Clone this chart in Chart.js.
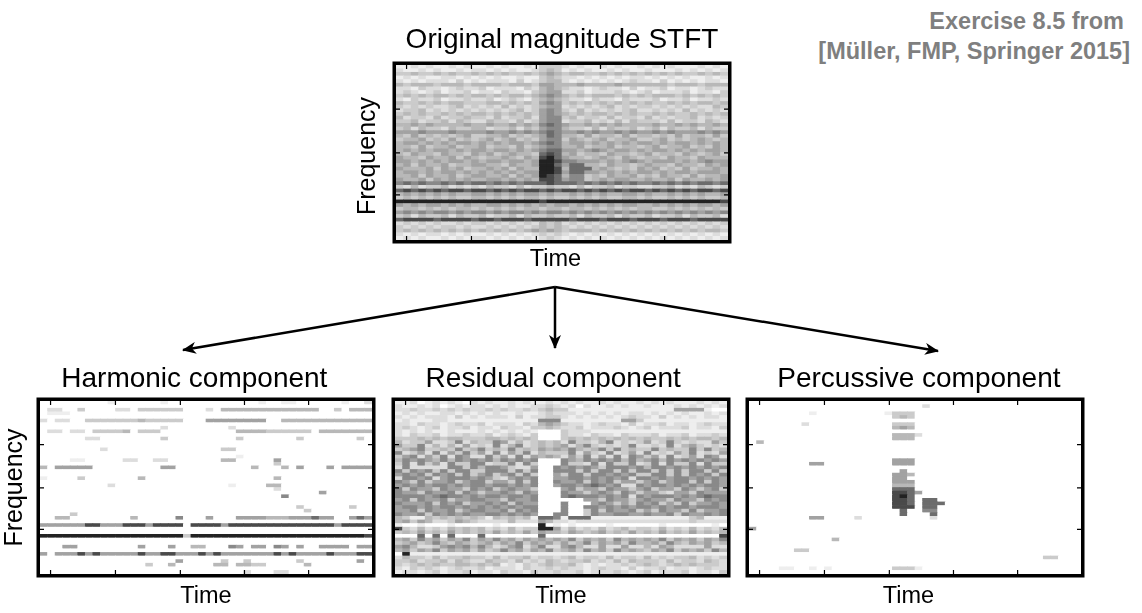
<!DOCTYPE html>
<html>
<head>
<meta charset="utf-8">
<title>Harmonic-percussive separation</title>
<script src="https://cdn.jsdelivr.net/npm/chart.js@4.4.1/dist/chart.umd.min.js"></script>
<style>
    html, body { margin: 0; padding: 0; background: #fff; }
    body { width: 1142px; height: 613px; position: relative; overflow: hidden; font-family: "Liberation Sans", Arial, sans-serif; }
    .panel { position: absolute; }
    .note { position: absolute; color: #7f7f7f; font-weight: bold; font-size: 23.5px; line-height: 27px; white-space: nowrap; }
    #arrows { position: absolute; left: 0; top: 0; pointer-events: none; }
</style>
</head>
<body>
<div class="panel" style="left:340px;top:10px;width:400px;height:270px"><canvas id="original" width="400" height="270"></canvas></div>
<div class="panel" style="left:0px;top:345px;width:385px;height:268px"><canvas id="harmonic" width="385" height="268"></canvas></div>
<div class="panel" style="left:385px;top:345px;width:350px;height:268px"><canvas id="residual" width="350" height="268"></canvas></div>
<div class="panel" style="left:740px;top:345px;width:349px;height:268px"><canvas id="percussive" width="349" height="268"></canvas></div>

<div class="note" style="right:18px;top:8px">Exercise 8.5 from</div>
<div class="note" style="right:12px;top:38px">[Müller, FMP, Springer 2015]</div>

<svg id="arrows" width="1142" height="613">
    <defs>
        <marker id="head" markerWidth="14" markerHeight="12" refX="13" refY="6" orient="auto" markerUnits="userSpaceOnUse">
            <path d="M0,0 L14,6 L0,12 L4,6 z" fill="#000"></path>
        </marker>
    </defs>
    <line x1="555" y1="287" x2="183" y2="350" stroke="#000" stroke-width="2.5" marker-end="url(#head)"></line>
    <line x1="555" y1="287" x2="555" y2="348" stroke="#000" stroke-width="2.5" marker-end="url(#head)"></line>
    <line x1="555" y1="287" x2="938" y2="351" stroke="#000" stroke-width="2.5" marker-end="url(#head)"></line>
</svg>

<script>
// Grid size: time frames x frequency bins.
const nCols = 44;
const nRows = 48;

// Time frame labels (x categories).
const timeFrames = Array.from({ length: nCols }, (_, i) => i + 1);

// Tick marks (in frame index / bin units), unlabeled like the original.
const timeTicks = [0.9, 9.5, 18.1, 26.6, 35.1];
const freqTicks = [12.4, 23.9, 35.9];

// Gray level 0 (white) .. 9 (black).
const grayMap = ['#ffffff', '#eeeeee', '#dddddd', '#cbcbcb', '#b8b8b8', '#a2a2a2', '#898989', '#6c6c6c', '#4a4a4a', '#222222'];

// Original magnitude STFT, rows from top (high freq) to bottom, 44 frames each.
const originalRows = [
    "11212112121 12121121333 21211212112 12121112121",
    "21121211212 21212112343 12121121211 21112121212",
    "33433434334 34343343454 34433434343 43434334343",
    "12121122121 21211211343 22121212122 12121211212",
    "21212221312 12221312344 21212121232 21312121221",
    "43444344434 44434443554 44544445444 44434443444",
    "22132212322 31222132454 32212322131 22312212322",
    "23212312231 22132213455 22312223212 31222312213",
    "34343443434 43434434565 43434443434 34443434343",
    "21322312232 23123213454 32213221322 23122312232",
    "43343434433 34434343565 34343434343 43343434434",
    "32323223423 23242323455 23232342323 32323232243",
    "23342323232 32323423565 32423232342 23232423232",
    "34343343434 43434343565 43434434343 34343343434",
    "42332423343 32423342566 34233242332 42323342323",
    "33423342432 24332423566 23342324243 33242332432",
    "44545444454 45445454676 54454545444 45445454454",
    "34243324334 42334243566 43324243342 34243342433",
    "55565556555 56556565676 55656556565 56565556565",
    "43534343453 34453434576 44353443534 43435344353",
    "34453435343 45345343566 35434534453 34534345434",
    "45545454554 54545545676 45545454545 54545545454",
    "44353445344 53443534566 44534453443 45344534354",
    "45454554545 54554545677 55456545545 45545454554",
    "43544354435 45345443787 45344354434 53443543453",
    "54435445354 34454354897 54434543543 44354435444",
    "55454545545 45545545998 66555454565 45554545655",
    "45354453445 54435445997 57744354434 54435443545",
    "54445354534 45453544998 47774543435 45343534454",
    "45545455454 54545455998 57755454545 54545545554",
    "44535445345 54453545987 46634354453 43544353445",
    "54453545454 45545454887 56634545544 54453544545",
    "67676676767 76767677787 77676767676 67676767767",
    "32423342323 24332423343 32423342332 23342324323",
    "78787878878 87878788787 88787878788 78787878878",
    "45454545445 54545455454 45454544554 54454545445",
    "34343434334 43434344343 34343433443 43343434334",
    "99999999999 99999999899 99999999999 99999999998",
    "54545545454 45545454545 54545454554 45454545545",
    "34434343443 43434344344 34434343434 43343434343",
    "56565665656 65656656566 56565656565 65656565656",
    "34243342433 42334243343 34243342433 42334243342",
    "78888788887 88788878888 87888788878 88788878888",
    "23232322323 32323232434 23232323232 32323232323",
    "32323233232 23232323434 32323232323 23232323232",
    "34343434343 43434345454 34443434343 43434343443",
    "21212212121 12121212323 21212121212 12121212121",
    "12121121212 21212121232 12121212121 21212121212",
];

// Residual component, same layout.
const residualRows = [
    "11201212102 12112121121 21211212112 12121112121",
    "21121201212 21212112232 12021121211 21112121212",
    "22322323232 23232232343 31111111111 11115555100",
    "12121122121 21211211232 22121212122 12121211212",
    "21212221312 12221312233 21212121232 21312121221",
    "12111221111 11111111666 11111111553 11111111111",
    "22132212322 31222132454 32212322131 22312212322",
    "23212312231 22132213343 22312223212 31222312213",
    "21212112111 21212121000 32221111111 11111111111",
    "21322312232 23123213000 32213221322 23122312232",
    "33343434433 34434343000 34343434343 43343434434",
    "42335223624 33652423434 26332462323 52363232253",
    "53362424252 32624623434 52463232362 23262453232",
    "34563343634 63436343545 46434636343 36343363634",
    "62352625363 52625362433 36253262352 62325362325",
    "35625362652 26352625454 25362526265 35262352652",
    "46565464656 56465656000 65465656464 56465656565",
    "36263526336 62336263000 63326263362 36263362633",
    "26222226636 46653225006 56565366656 46656565656",
    "63656363663 36663636006 66363663636 63636366363",
    "56563656363 56356363005 36636656563 36636365636",
    "26656256665 65325656005 56656565626 65656656565",
    "65363556356 63553636006 55636563553 56356636365",
    "56565665656 65665656005 66567656226 56656565665",
    "63655365536 56356553000 56355365535 63553653563",
    "65536556365 35565365000 65535653653 55325536555",
    "66665676656 56656656000 67666565626 56665656766",
    "56365563556 65536556000 00055365535 65536553656",
    "65556365635 56563655000 60005653536 56353635565",
    "56656566565 65656566000 60066565656 65656656665",
    "55636556356 65563656000 60036365563 53655363556",
    "65563656565 56656565006 60036556655 65563655656",
    "43114343434 31434341776 17771111111 11111134111",
    "45354223543 22224222542 21222222222 22222232222",
    "10010001000 00100000901 01000010000 00100000010",
    "83242324343 42324233995 24232423423 32423242324",
    "34353435343 43534353544 35434534353 43534353434",
    "00070707000 70000000700 00000000000 00000000008",
    "45364535463 54645354545 46354536454 54635453546",
    "34534643543 45354635453 53463545364 45364354534",
    "56422356564 64235624622 56422522522 42542222522",
    "45354635453 53464535463 45364536454 35463545364",
    "09111111111 11111111111 11111111111 11111111111",
    "24332423343 32423342332 34233242332 42323342323",
    "33423342432 24332423243 23342324243 33242332432",
    "32343433443 43412132343 34212122323 43234343332",
    "21323212322 31222132232 32212322131 22312212322",
    "12212312231 22132213223 22312223212 31222312213",
];

// Harmonic component: [row, first frame, last frame, gray level].
const harmonicSegments = [
    [0, 9, 9, 1], [0, 16, 16, 1], [0, 29, 29, 1], [0, 32, 33, 1], [0, 40, 40, 1], [0, 43, 43, 2],
    [2, 1, 2, 2], [2, 5, 5, 3], [2, 10, 11, 2], [2, 13, 18, 3], [2, 22, 22, 2], [2, 24, 36, 4], [2, 39, 39, 3], [2, 41, 43, 4],
    [3, 1, 3, 1],
    [5, 0, 0, 2], [5, 2, 3, 2], [5, 6, 18, 3], [5, 13, 13, 4], [5, 22, 29, 5], [5, 32, 43, 4],
    [7, 16, 16, 2], [7, 25, 25, 2],
    [8, 1, 2, 2], [8, 4, 5, 2], [8, 7, 11, 3], [8, 11, 11, 4], [8, 13, 15, 3], [8, 26, 29, 4], [8, 30, 35, 3], [8, 37, 43, 4],
    [10, 6, 7, 2], [10, 16, 16, 3], [10, 26, 26, 3], [10, 34, 34, 3], [10, 42, 42, 3],
    [13, 8, 8, 2], [13, 24, 25, 3],
    [15, 26, 26, 1],
    [16, 4, 5, 1], [16, 11, 12, 2], [16, 15, 16, 2], [16, 24, 25, 4], [16, 31, 31, 5],
    [17, 31, 31, 3],
    [18, 0, 0, 4], [18, 2, 6, 5], [18, 16, 17, 5], [18, 28, 28, 4], [18, 32, 32, 4], [18, 34, 34, 5], [18, 38, 38, 5], [18, 40, 43, 5],
    [21, 0, 0, 1], [21, 5, 5, 3], [21, 13, 13, 4], [21, 31, 31, 4],
    [23, 9, 9, 2], [23, 25, 25, 1], [23, 30, 31, 4],
    [24, 31, 31, 2],
    [25, 37, 37, 5],
    [26, 32, 32, 6],
    [29, 34, 34, 3], [29, 41, 41, 3],
    [30, 35, 35, 3],
    [31, 4, 4, 3],
    [32, 2, 3, 4], [32, 12, 12, 4], [32, 18, 18, 6], [32, 22, 22, 5], [32, 26, 29, 5], [32, 30, 32, 4], [32, 33, 38, 5],
    [32, 41, 43, 5], [32, 36, 36, 7], [32, 42, 42, 7],
    [34, 0, 5, 5], [34, 6, 7, 8], [34, 8, 10, 5], [34, 11, 13, 8], [34, 14, 14, 5], [34, 15, 18, 8],
    [34, 20, 23, 8], [34, 24, 24, 5], [34, 25, 38, 8], [34, 39, 39, 5], [34, 40, 43, 8],
    [37, 0, 18, 9], [37, 19, 19, 3], [37, 20, 42, 9], [37, 43, 43, 8],
    [40, 3, 4, 5], [40, 13, 13, 5], [40, 17, 17, 5], [40, 20, 21, 4], [40, 25, 25, 6], [40, 26, 26, 5], [40, 28, 29, 5],
    [40, 31, 31, 6], [40, 32, 32, 5], [40, 34, 34, 5], [40, 37, 40, 5], [40, 42, 43, 5],
    [42, 0, 0, 5], [42, 2, 43, 5], [42, 5, 5, 8], [42, 7, 7, 8], [42, 13, 13, 8], [42, 16, 17, 8], [42, 21, 21, 8],
    [42, 23, 23, 8], [42, 31, 31, 8], [42, 33, 33, 8], [42, 38, 38, 8], [42, 42, 43, 8],
    [44, 18, 18, 5], [44, 24, 24, 3], [44, 27, 27, 3], [44, 34, 34, 3], [44, 42, 42, 5],
    [45, 14, 14, 3], [45, 17, 17, 4], [45, 23, 24, 4], [45, 26, 27, 4], [45, 28, 29, 3], [45, 35, 35, 4],
    [47, 27, 27, 2], [47, 31, 32, 2],
];

// Percussive component: [row, first frame, last frame, gray level].
const percussiveSegments = [
    [1, 23, 23, 2],
    [3, 8, 8, 1], [3, 18, 18, 1], [3, 19, 21, 3], [4, 19, 21, 3], [4, 20, 20, 4],
    [6, 7, 7, 2], [6, 19, 21, 3], [7, 19, 21, 4], [7, 20, 20, 5],
    [9, 19, 21, 4], [9, 22, 22, 2], [10, 19, 21, 4],
    [11, 1, 1, 4],
    [16, 19, 21, 5], [17, 19, 21, 5], [17, 8, 9, 5],
    [19, 20, 20, 5], [20, 19, 20, 5], [20, 21, 21, 4], [21, 19, 20, 5],
    [22, 19, 21, 5], [23, 19, 21, 4],
    [24, 19, 21, 7], [25, 19, 20, 8], [25, 21, 21, 7], [25, 22, 22, 5],
    [26, 19, 19, 8], [26, 20, 20, 9], [26, 21, 21, 7],
    [27, 19, 20, 8], [27, 21, 21, 7], [27, 23, 24, 7],
    [28, 19, 20, 8], [28, 21, 21, 7], [28, 23, 24, 7], [28, 25, 25, 7],
    [29, 19, 21, 8], [29, 23, 24, 7],
    [30, 20, 20, 7], [30, 23, 24, 6],
    [31, 20, 20, 7], [31, 24, 24, 7],
    [32, 8, 9, 5], [32, 14, 14, 2], [32, 24, 24, 2],
    [35, 0, 0, 5],
    [38, 11, 11, 4],
    [41, 6, 7, 3],
    [43, 39, 40, 3],
    [46, 4, 5, 1], [46, 8, 8, 1], [46, 10, 10, 1], [46, 19, 21, 3], [46, 22, 22, 1],
];

Chart.defaults.font.family = '"Liberation Sans", Arial, sans-serif';
Chart.defaults.color = '#000';

// Dense rows (strings) to grid of levels.
function dense_grid(rows) {
    return rows.map(r => r.replace(/ /g, '').padEnd(nCols, '0').slice(0, nCols).split('').map(Number));
}

// Sparse segments to grid of levels.
function sparse_grid(segments) {
    const grid = Array.from({ length: nRows }, () => new Array(nCols).fill(0));
    segments.forEach(([row, c0, c1, level]) => {
        for (let c = c0; c <= c1; c++) grid[row][c] = Math.max(grid[row][c], level);
    });
    return grid;
}

// One stacked dataset per frequency bin, bottom bin first.
function make_datasets(grid) {
    const sets = [];
    for (let r = nRows - 1; r >= 0; r--) {
        sets.push({
            data: timeFrames.map(() => 1),
            backgroundColor: grid[r].map(v => grayMap[v]),
            borderWidth: 0,
            barPercentage: 1,
            categoryPercentage: 1,
            stack: 'bins',
        });
    }
    return sets;
}

// Black frame with small inward ticks.
const framePlugin = {
    id: 'frame',
    afterDraw(chart) {
        const { ctx, chartArea: a, scales: { x, y } } = chart;
        ctx.save();
        ctx.strokeStyle = '#000';
        ctx.lineWidth = 1.2;
        ctx.beginPath();
        timeTicks.forEach(t => {
            const px = x.getPixelForValue(t);
            ctx.moveTo(px, a.top); ctx.lineTo(px, a.top + 4);
            ctx.moveTo(px, a.bottom); ctx.lineTo(px, a.bottom - 4);
        });
        freqTicks.forEach(f => {
            const py = y.getPixelForValue(f);
            ctx.moveTo(a.left, py); ctx.lineTo(a.left + 4, py);
            ctx.moveTo(a.right, py); ctx.lineTo(a.right - 4, py);
        });
        ctx.stroke();
        ctx.lineWidth = 3.5;
        ctx.strokeRect(a.left - 1.75, a.top - 1.75, a.width + 3.5, a.height + 3.5);
        ctx.restore();
    }
};

// Draw one spectrogram panel.
function draw_panel(id, grid, opts) {
    const ctx = document.getElementById(id);

    const config = {
        type: 'bar',
        data: {
            labels: timeFrames,
            datasets: make_datasets(grid),
        },
        options: {
            responsive: false,
            animation: false,
            events: [],
            layout: { padding: opts.padding },
            plugins: {
                legend: { display: false },
                tooltip: { enabled: false },
                title: {
                    display: true,
                    text: opts.title,
                    fullSize: false,
                    font: { size: 28, weight: 'normal' },
                    color: '#000',
                    padding: opts.titlePadding,
                },
            },
            scales: {
                x: {
                    stacked: true,
                    grid: { display: false, drawTicks: false },
                    border: { display: false },
                    ticks: { display: false },
                    title: {
                        display: true,
                        text: opts.timeText || 'Time',
                        font: { size: 23.5 },
                        color: '#000',
                        padding: opts.timePadding,
                    },
                },
                y: {
                    stacked: true,
                    min: 0,
                    max: nRows,
                    display: opts.freqPadding ? true : false,
                    grid: { display: false, drawTicks: false },
                    border: { display: false },
                    ticks: { display: false },
                    title: {
                        display: true,
                        text: opts.freqText || 'Frequency',
                        font: { size: 25 },
                        color: '#000',
                        padding: opts.freqPadding || 0,
                    },
                },
            },
        },
        plugins: [framePlugin],
    };

    return new Chart(ctx, config);
}

draw_panel('original', dense_grid(originalRows), {
    title: 'Original magnitude STFT',
    padding: { left: 0, right: 12, top: 0, bottom: 0 },
    titlePadding: { top: 13.2, bottom: 8.2 },
    timeText: 'Time  ',
    timePadding: { top: 5.4, bottom: 6.4 },
    freqText: 'Frequency ',
    freqPadding: { top: 13.5, bottom: 12.5 },
});

draw_panel('harmonic', sparse_grid(harmonicSegments), {
    title: 'Harmonic component   ',
    padding: { left: 0, right: 13, top: 0, bottom: 0 },
    titlePadding: { top: 17.2, bottom: 5.2 },
    timePadding: { top: 8.9, bottom: 1.9 },
    freqPadding: { top: 0, bottom: 10 },
});

draw_panel('residual', dense_grid(residualRows), {
    title: 'Residual component  ',
    padding: { left: 10, right: 8, top: 0, bottom: 0 },
    titlePadding: { top: 17.2, bottom: 5.2 },
    timePadding: { top: 8.9, bottom: 1.9 },
});

draw_panel('percussive', sparse_grid(percussiveSegments), {
    title: ' Percussive component',
    padding: { left: 9, right: 8, top: 0, bottom: 0 },
    titlePadding: { top: 17.2, bottom: 5.2 },
    timeText: 'Time  ',
    timePadding: { top: 8.9, bottom: 1.9 },
});
</script>
</body>
</html>
